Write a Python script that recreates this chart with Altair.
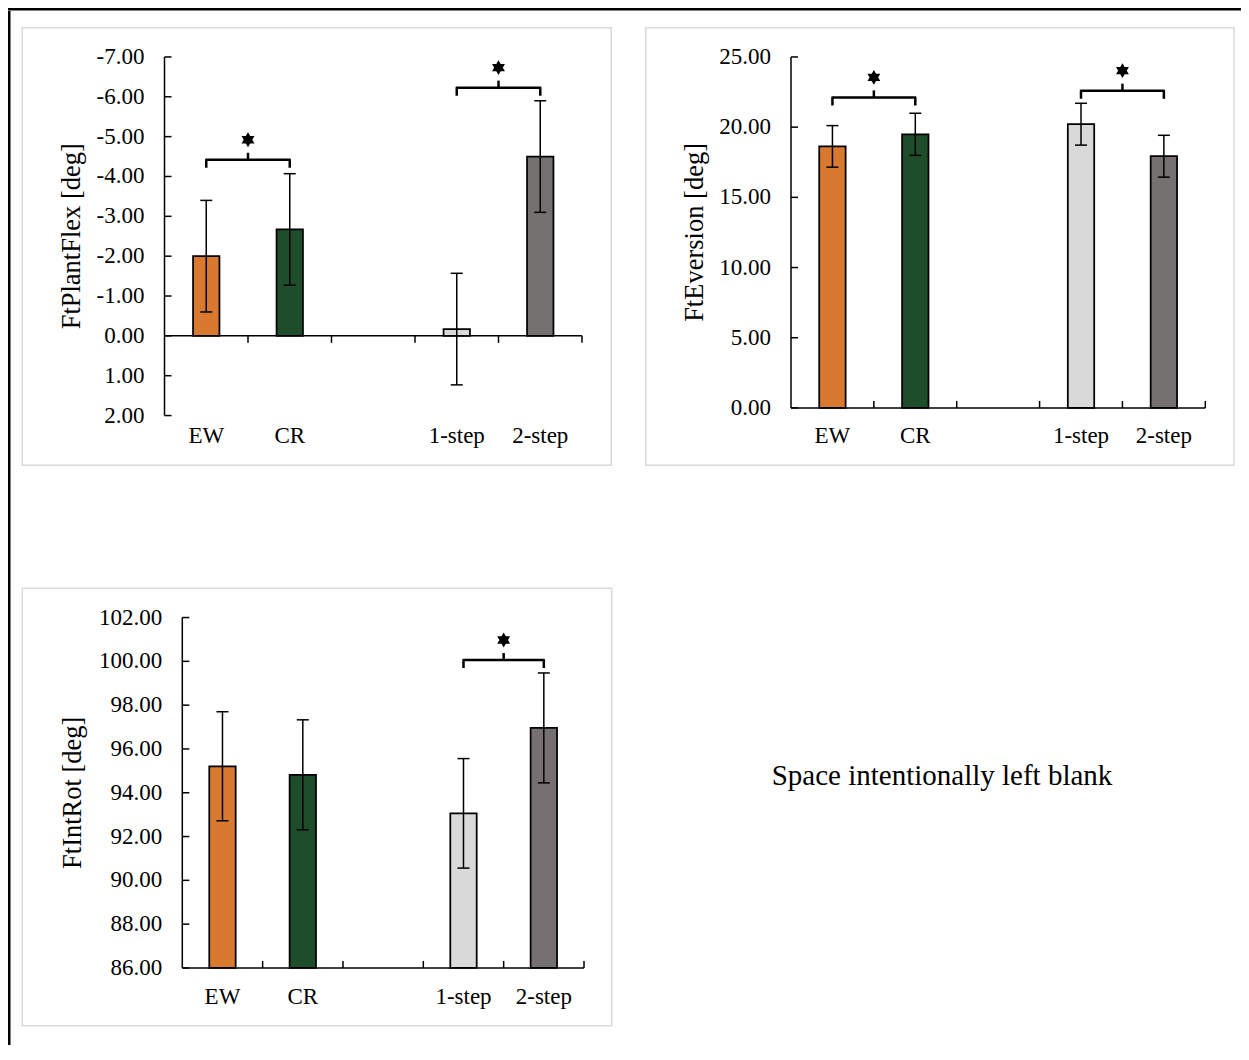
import altair as alt
import pandas as pd

# ---------------- data ----------------
categories = ["EW", "CR", "1-step", "2-step"]
slots = [0, 1, 3, 4]          # slot index on the category axis (slot 2 stays empty)
bar_colors = ["#D9782F", "#1E4D2B", "#D9D9D9", "#767171"]

flex_title = "FtPlantFlex [deg]"
flex_mean = [-2.00, -2.67, -0.17, -4.50]
flex_err = [1.40, 1.40, 1.40, 1.40]
flex_ticks = [-7, -6, -5, -4, -3, -2, -1, 0, 1, 2]
flex_brackets = [("EW", "CR", -4.42), ("1-step", "2-step", -6.23)]

ever_title = "FtEversion [deg]"
ever_mean = [18.63, 19.49, 20.21, 17.93]
ever_err = [1.48, 1.50, 1.49, 1.49]
ever_ticks = [0, 5, 10, 15, 20, 25]
ever_brackets = [("EW", "CR", 22.12), ("1-step", "2-step", 22.60)]

rot_title = "FtIntRot [deg]"
rot_mean = [95.21, 94.82, 93.06, 96.96]
rot_err = [2.49, 2.51, 2.50, 2.51]
rot_ticks = [86, 88, 90, 92, 94, 96, 98, 100, 102]
rot_brackets = [("1-step", "2-step", 100.06)]

blank_note = "Space intentionally left blank"

# ---------------- style ----------------
FONT = "Liberation Serif"
NO_STROKE = alt.ViewBackground(stroke="transparent", strokeWidth=0)
STAR = "M0,-1L0.866,0.5L-0.866,0.5Z M0,1L-0.866,-0.5L0.866,-0.5Z"
NSLOT = 5
LABEL_SIZE = 23
TITLE_SIZE = 26.5
dummy = pd.DataFrame({"k": [0]})


def panel(title, means, errs, ticks, brackets, base, axis_y, reverse, xtick_dir,
          vw, vh, px0, px1, pytop, pybot, title_x, label_y):
    """One Excel-like chart: the view is the light grey chart frame,
    the plot area sits inside it through the scale ranges."""
    ymin, ymax = ticks[0], ticks[-1]
    ppx = (px1 - px0) / NSLOT
    ppy = (pybot - pytop) / (ymax - ymin)
    sgn = -1 if reverse else 1

    def up(px):
        return sgn * px / ppy

    xs = alt.Scale(domain=[0, NSLOT], range=[px0, px1], nice=False, zero=False)
    ys = alt.Scale(domain=[ymin, ymax],
                   range=[pytop, pybot] if reverse else [pybot, pytop],
                   nice=False, zero=False)

    def X(f):
        return alt.X(f, scale=xs, axis=None)

    def Y(f):
        return alt.Y(f, scale=ys, axis=None)

    pos = [s + 0.5 for s in slots]
    bars = pd.DataFrame({"cat": categories, "pos": pos, "mean": means, "err": errs})
    bars["base"] = base
    bars["xl"] = bars["pos"] - 13.2 / ppx
    bars["xr"] = bars["pos"] + 13.2 / ppx
    bars["lo"] = bars["mean"] - bars["err"]
    bars["hi"] = bars["mean"] + bars["err"]

    caps = pd.DataFrame({
        "xl": list(bars["pos"] - 6 / ppx) * 2,
        "xr": list(bars["pos"] + 6 / ppx) * 2,
        "yv": list(bars["lo"]) + list(bars["hi"]),
    })

    # axis lines and inward tick marks
    segs = [{"x1": 0, "x2": NSLOT, "y1": axis_y, "y2": axis_y},
            {"x1": 0, "x2": 0, "y1": ymin, "y2": ymax}]
    for k in range(1, NSLOT + 1):
        segs.append({"x1": k, "x2": k, "y1": axis_y, "y2": axis_y + xtick_dir * up(7)})
    for t in ticks:
        segs.append({"x1": 0, "x2": 7 / ppx, "y1": t, "y2": t})
    segs = pd.DataFrame(segs)

    ylabels = pd.DataFrame({"v": ticks, "x": 0, "txt": [f"{t:.2f}" for t in ticks]})
    xlabels = pd.DataFrame({"pos": pos, "txt": categories})
    ttl = pd.DataFrame({"txt": [title]})

    pos_of = dict(zip(categories, pos))
    bl, stubs, stars = [], [], []
    for i, (a, b, lvl) in enumerate(brackets):
        xa, xb = pos_of[a], pos_of[b]
        pts = [(xa, lvl - up(8)), (xa, lvl), (xb, lvl), (xb, lvl - up(8))]
        for k, (px_, py_) in enumerate(pts):
            bl.append({"bid": i, "k": k, "x": px_, "y": py_})
        xm = (xa + xb) / 2
        stubs.append({"x": xm, "y1": lvl, "y2": lvl + up(7)})
        stars.append({"x": xm, "y": lvl + up(20)})
    bl, stubs, stars = pd.DataFrame(bl), pd.DataFrame(stubs), pd.DataFrame(stars)

    box_layer = alt.Chart(dummy).mark_rect(fill="white", stroke="#d9d9d9",
                                           strokeWidth=1.5).encode(
        x=alt.value(0.75), x2=alt.value(vw - 0.75),
        y=alt.value(0.75), y2=alt.value(vh - 0.75),
    )
    bar_layer = alt.Chart(bars).mark_rect(stroke="black", strokeWidth=1.75).encode(
        x=X("xl:Q"), x2="xr:Q", y=Y("mean:Q"), y2="base:Q",
        color=alt.Color("cat:N", scale=alt.Scale(domain=categories, range=bar_colors),
                        legend=None),
    )
    err_layer = alt.Chart(bars).mark_rule(color="black", strokeWidth=1.5).encode(
        x=X("pos:Q"), y=Y("lo:Q"), y2="hi:Q",
    )
    cap_layer = alt.Chart(caps).mark_rule(color="black", strokeWidth=1.5).encode(
        x=X("xl:Q"), x2="xr:Q", y=Y("yv:Q"),
    )
    seg_layer = alt.Chart(segs).mark_rule(color="black", strokeWidth=1.5).encode(
        x=X("x1:Q"), x2="x2:Q", y=Y("y1:Q"), y2="y2:Q",
    )
    ylab_layer = alt.Chart(ylabels).mark_text(
        font=FONT, fontSize=LABEL_SIZE, color="black", align="right",
        baseline="middle", dx=-20).encode(x=X("x:Q"), y=Y("v:Q"), text="txt:N")
    xlab_layer = alt.Chart(xlabels).mark_text(
        font=FONT, fontSize=LABEL_SIZE, color="black", align="center",
        baseline="alphabetic").encode(x=X("pos:Q"), y=alt.value(label_y), text="txt:N")
    title_layer = alt.Chart(ttl).mark_text(
        font=FONT, fontSize=TITLE_SIZE, color="black", align="center",
        baseline="alphabetic", angle=270).encode(
        x=alt.value(title_x), y=alt.value((pytop + pybot) / 2), text="txt:N")
    br_layer = alt.Chart(bl).mark_line(color="black", strokeWidth=2.5,
                                       strokeJoin="round").encode(
        x=X("x:Q"), y=Y("y:Q"), detail="bid:N", order="k:Q",
    )
    stub_layer = alt.Chart(stubs).mark_rule(color="black", strokeWidth=2.5).encode(
        x=X("x:Q"), y=Y("y1:Q"), y2="y2:Q",
    )
    star_layer = alt.Chart(stars).mark_point(shape=STAR, filled=True, color="black",
                                             size=220, opacity=1).encode(
        x=X("x:Q"), y=Y("y:Q"),
    )
    return alt.layer(box_layer, bar_layer, err_layer, cap_layer, seg_layer,
                     ylab_layer, xlab_layer, title_layer, br_layer, stub_layer,
                     star_layer).properties(width=vw, height=vh, view=NO_STROKE)


VH = 439
p1 = panel(flex_title, flex_mean, flex_err, flex_ticks, flex_brackets, 0, 0, True, -1,
           590.5, VH, 143.0, 560.5, 29.95, 388.55, 58.5, 415.95)
p2 = panel(ever_title, ever_mean, ever_err, ever_ticks, ever_brackets, 0, 0, False, 1,
           589.75, VH, 146.0, 560.3, 29.95, 380.95, 58.0, 415.95)
p3 = panel(rot_title, rot_mean, rot_err, rot_ticks, rot_brackets, 86, 86, False, 1,
           591.0, VH, 160.8, 562.5, 30.05, 380.45, 59.0, 416.75)

note = pd.DataFrame({"t": [blank_note]})
text_bg = alt.Chart(dummy).mark_rect(fill="white").encode(
    x=alt.value(0), x2=alt.value(588), y=alt.value(0), y2=alt.value(VH))
text_mark = alt.Chart(note).mark_text(font=FONT, fontSize=29, color="black",
                                      align="center", baseline="middle").encode(
    text="t:N", x=alt.value(297), y=alt.value(188.75))
text_panel = alt.layer(text_bg, text_mark).properties(width=588, height=VH,
                                                      view=NO_STROKE)

# black figure frame (top and left edges) and a blank spacer
frame_top = alt.Chart(dummy).mark_rect(color="black").encode(
    x=alt.value(0), x2=alt.value(1233), y=alt.value(0), y2=alt.value(2.5)
).properties(width=1233, height=2.5, view=NO_STROKE)
frame_left = alt.Chart(dummy).mark_rect(color="black").encode(
    x=alt.value(0), x2=alt.value(2.5), y=alt.value(0), y2=alt.value(1034)
).properties(width=2.5, height=1034, view=NO_STROKE)
spacer = alt.Chart(dummy).mark_rect(fill="white").encode(
    x=alt.value(0), x2=alt.value(10), y=alt.value(0), y2=alt.value(15.25)
).properties(width=10, height=15.25, view=NO_STROKE)

row1 = alt.hconcat(p1, p2, spacing=32.5)
row2 = alt.hconcat(p3, text_panel, spacing=32.5)
rows = alt.vconcat(row1, row2, spacing=121.5)
grid = alt.vconcat(spacer, rows, spacing=0)
body = alt.hconcat(frame_left, grid, spacing=10.5)
chart = alt.vconcat(frame_top, body, spacing=0).properties(
    padding=0
).configure(font=FONT)

chart.save("out.html", embed_options={"renderer": "svg", "actions": False})
